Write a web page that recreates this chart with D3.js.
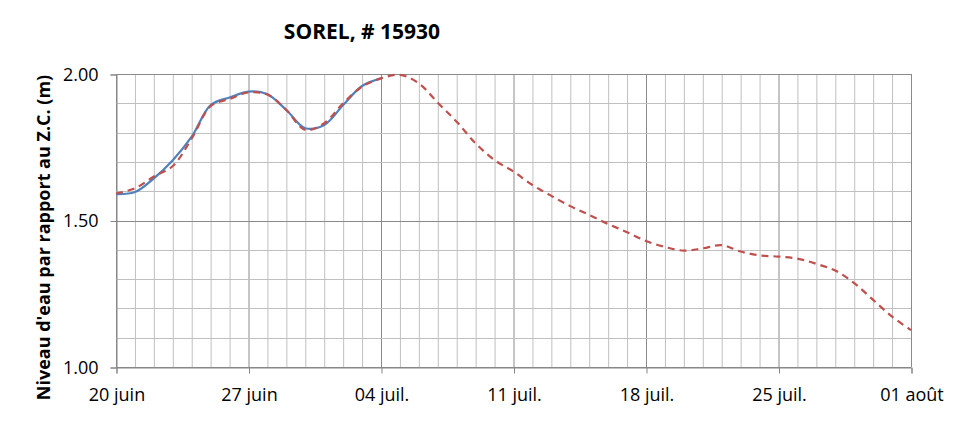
<!DOCTYPE html>
<html>
<head>
<meta charset="utf-8">
<script src="https://cdn.jsdelivr.net/npm/d3@7"></script>
<style>
  body { margin: 0; background: #fff; }
  text { font-family: "Open Sans", "Liberation Sans", sans-serif; }
</style>
</head>
<body>
<div id="viz"></div>
<script>
// daily values starting 20 juin
const observed = [1.590, 1.597, 1.644, 1.706, 1.786, 1.894, 1.920, 1.940, 1.931, 1.877,
    1.815, 1.826, 1.894, 1.959, 1.985];
const forecast = [1.592, 1.610, 1.650, 1.686, 1.780, 1.890, 1.915, 1.937, 1.930, 1.877,
    1.809, 1.832, 1.900, 1.957, 1.985, 1.997, 1.968, 1.902, 1.837, 1.763,
    1.706, 1.667, 1.621, 1.584, 1.549, 1.519, 1.488, 1.460, 1.430, 1.410,
    1.397, 1.405, 1.416, 1.394, 1.381, 1.377, 1.370, 1.352, 1.329, 1.286,
    1.229, 1.172, 1.126];
const tickLabels = ["20 juin", "27 juin", "04 juil.", "11 juil.", "18 juil.", "25 juil.", "01 août"];
const yTickLabels = ["1.00", "1.50", "2.00"];

const width = 971, height = 421;
const margin = {left: 116, right: 60, top: 74, bottom: 54};

const svg = d3.select("#viz").append("svg")
    .attr("width", width)
    .attr("height", height);

const xScale = d3.scaleLinear()
    .domain([0, 42])
    .range([margin.left, width - margin.right]);

const yScale = d3.scaleLinear()
    .domain([1, 2])
    .range([height - margin.bottom, margin.top]);

// gridlines
const minorDays = d3.range(0, 43);
svg.append("g").selectAll("line")
    .data(minorDays)
    .join("line")
        .attr("x1", d => xScale(d) + 0.5)
        .attr("x2", d => xScale(d) + 0.5)
        .attr("y1", yScale(2))
        .attr("y2", yScale(1))
        .attr("stroke", d => d % 7 === 0 ? "#8a8a8a" : "#c0c0c0")
        .attr("stroke-width", 1);

const yGrid = d3.range(1, 2.001, 0.1);
svg.append("g").selectAll("line")
    .data(yGrid)
    .join("line")
        .attr("x1", xScale(0))
        .attr("x2", xScale(42))
        .attr("y1", d => Math.round(yScale(d)) + 0.5)
        .attr("y2", d => Math.round(yScale(d)) + 0.5)
        .attr("stroke", (d, i) => i % 5 === 0 ? "#8a8a8a" : "#c0c0c0")
        .attr("stroke-width", 1);

// axes
const xAxis = svg.append("g")
    .attr("transform", `translate(0.5,${Math.round(yScale(1)) + 0.5})`)
    .call(d3.axisBottom(xScale)
        .tickValues(d3.range(0, 43, 7))
        .tickSize(6)
        .tickFormat((d, i) => tickLabels[i]));
xAxis.select(".domain").attr("stroke", "#868686");
xAxis.selectAll(".tick line").attr("stroke", "#868686");
xAxis.selectAll(".tick text")
    .attr("y", 21)
    .style("font-size", "18px")
    .attr("fill", "#000");

const yAxis = svg.append("g")
    .attr("transform", `translate(${xScale(0) + 0.5},0.5)`)
    .call(d3.axisLeft(yScale)
        .tickValues([1, 1.5, 2])
        .tickSize(6)
        .tickFormat((d, i) => yTickLabels[i]));
yAxis.select(".domain").attr("stroke", "#868686");
yAxis.selectAll(".tick line").attr("stroke", "#868686");
yAxis.selectAll(".tick text")
    .attr("x", -18)
    .style("font-size", "18px")
    .attr("fill", "#000");

// lines
const line = d3.line()
    .x((d, i) => xScale(i))
    .y(d => yScale(d))
    .curve(d3.curveCatmullRom.alpha(0.5));

svg.append("path")
    .datum(observed)
    .attr("d", line)
    .attr("fill", "none")
    .attr("stroke", "#4f81bd")
    .attr("stroke-width", 2.2);

svg.append("path")
    .datum(forecast)
    .attr("d", line)
    .attr("fill", "none")
    .attr("stroke", "#c0504d")
    .attr("stroke-width", 2.2)
    .attr("stroke-dasharray", "7,5");

// titles
svg.append("text")
    .attr("x", 362)
    .attr("y", 39)
    .attr("text-anchor", "middle")
    .style("font-size", "21px")
    .style("font-weight", "bold")
    .text("SOREL, # 15930");

svg.append("text")
    .attr("transform", `translate(50,${(yScale(1) + yScale(2)) / 2 + 17}) rotate(-90)`)
    .attr("text-anchor", "middle")
    .style("font-size", "18px")
    .style("font-weight", "bold")
    .text("Niveau d'eau par rapport  au Z.C. (m)");
</script>
</body>
</html>
